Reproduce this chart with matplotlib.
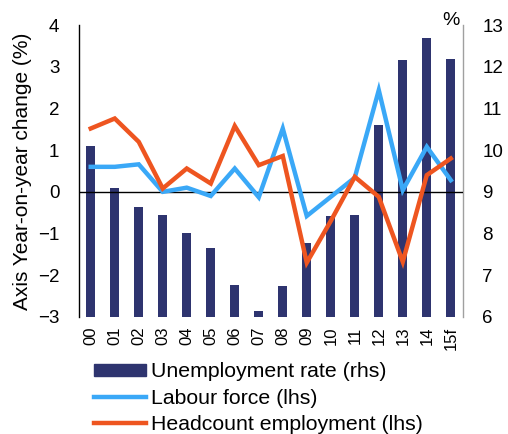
import matplotlib
matplotlib.use("Agg")
import matplotlib.pyplot as plt
import numpy as np
from matplotlib.patches import Patch
from matplotlib.lines import Line2D

years = ["00", "01", "02", "03", "04", "05", "06", "07", "08", "09", "10", "11", "12", "13", "14", "15f"]
unemployment = [10.1, 9.1, 8.63, 8.44, 8.0, 7.66, 6.77, 6.15, 6.75, 7.78, 8.41, 8.45, 10.6, 12.17, 12.69, 12.2]
labour_force = [0.6, 0.6, 0.66, 0.0, 0.1, -0.1, 0.56, -0.13, 1.52, -0.58, -0.12, 0.34, 2.44, 0.04, 1.08, 0.28]
headcount = [1.52, 1.76, 1.2, 0.08, 0.56, 0.2, 1.58, 0.64, 0.86, -1.7, -0.7, 0.36, -0.12, -1.68, 0.4, 0.8]

plt.rcParams['font.family'] = ['Liberation Sans', 'DejaVu Sans']

navy = "#2E346F"
blue = "#3AA8F7"
orange = "#EE5520"

fig = plt.figure(figsize=(5.08, 4.34), dpi=100)
ax = fig.add_axes([0.155, 0.270, 0.756, 0.672])
ax2 = ax.twinx()

x = np.arange(len(years))
ax2.bar(x, [u - 6 for u in unemployment], bottom=6, width=0.38, color=navy, zorder=1)
ax.set_zorder(ax2.get_zorder() + 1)
ax.patch.set_visible(False)

ax.axhline(0, color="black", lw=1.0, zorder=2)
ax.plot(x, labour_force, color=blue, lw=3.2, zorder=3, solid_joinstyle='miter')
ax.plot(x, headcount, color=orange, lw=3.2, zorder=4, solid_joinstyle='miter')

ax.set_xlim(-0.5, 15.5)
ax.set_ylim(-3, 4)
ax2.set_ylim(6, 13)
ax.set_yticks(range(-3, 5))
ax2.set_yticks(range(6, 14))
ax.set_xticks(x)
ax.set_xticklabels(years, rotation=90, fontsize=12)
ax.tick_params(axis='x', length=0, pad=7)
ax.tick_params(axis='y', length=0, pad=14, labelsize=13.5)
ax2.tick_params(axis='y', length=0, pad=14, labelsize=13.5)

for a in (ax, ax2):
    a.spines['top'].set_visible(False)
    a.spines['bottom'].set_visible(False)
ax.spines['right'].set_visible(False)
ax2.spines['left'].set_visible(False)
ax.spines['left'].set_color('black')
ax.spines['left'].set_linewidth(1.0)
ax2.spines['right'].set_color('#a0a0a0')
ax2.spines['right'].set_linewidth(1.0)

ax.set_ylabel("Axis Year-on-year change (%)", fontsize=15, labelpad=4)
fig.text(0.887, 0.953, "%", fontsize=14, ha='center', va='center')

handles = [Patch(color=navy), Line2D([], [], color=blue, lw=3.2), Line2D([], [], color=orange, lw=3.2)]
labels = ["Unemployment rate (rhs)", "Labour force (lhs)", "Headcount employment (lhs)"]
fig.legend(handles, labels, loc='upper left', bbox_to_anchor=(0.185, 0.165), frameon=False,
           fontsize=15.3, handlelength=2.45, handleheight=0.5, handletextpad=0.25,
           labelspacing=0.35, borderaxespad=0, borderpad=0)

fig.savefig("out.png", dpi=100)
